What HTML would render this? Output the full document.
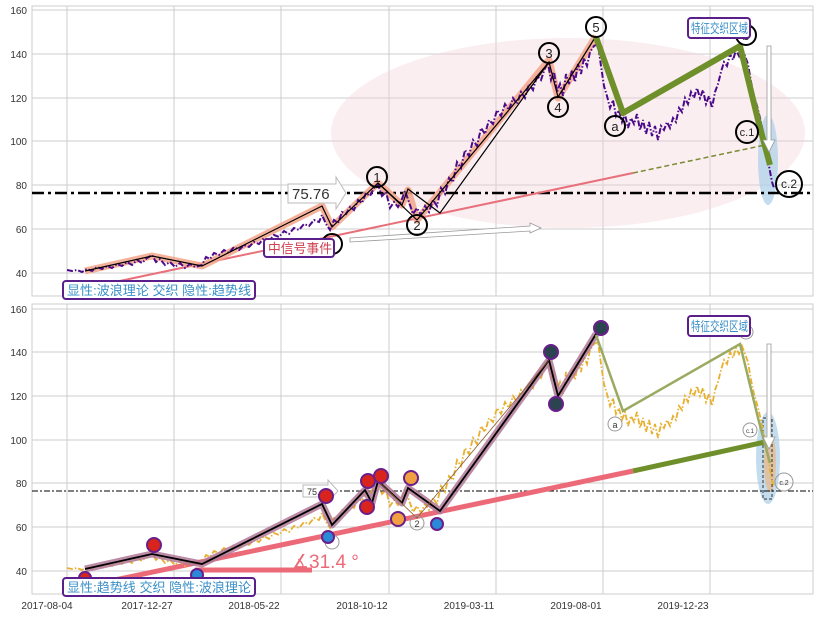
<!DOCTYPE html>
<html><head><meta charset="utf-8"><style>
html,body{margin:0;padding:0;background:#fff;}
svg{display:block;font-family:"Liberation Sans","Noto Sans CJK SC",sans-serif;}
</style></head><body>
<svg width="819" height="617" viewBox="0 0 819 617" xmlns="http://www.w3.org/2000/svg">
<defs>
<polyline id="price" fill="none" points="67,270 72,271 77,270 82,272 87,269 92,271 97,267 102,269 107,266 112,268 117,264 122,266 127,262 132,265 137,260 142,263 147,258 152,255 156,262 160,259 165,265 170,262 175,267 180,263 185,268 190,264 195,267 202,265 206,257 210,259 214,253 219,255 224,250 229,253 234,247 239,250 244,245 249,247 254,242 259,244 264,238 269,241 274,235 279,237 284,231 289,234 294,228 299,230 304,224 309,226 314,220 319,222 322,215 326,224 330,230 334,220 338,223 342,212 346,214 350,207 354,210 358,200 362,203 366,193 370,196 374,188 378,185 382,196 386,192 390,208 394,202 398,207 402,199 405,191 409,202 413,214 417,208 421,215 425,206 429,212 433,200 437,206 441,188 445,194 449,178 453,182 457,162 461,168 465,150 469,156 473,140 477,146 481,128 485,134 489,120 493,124 497,110 501,116 505,104 509,110 513,98 517,104 521,92 525,98 529,84 533,90 537,76 541,80 545,68 548,63 551,80 554,72 557,92 560,84 563,96 566,74 569,84 572,70 575,82 578,64 581,74 584,58 587,66 590,52 594,46 598,44 601,66 604,86 607,96 610,108 613,100 616,116 619,110 622,122 625,114 628,128 631,118 634,124 637,114 640,130 643,120 646,134 649,122 652,136 655,126 658,140 661,126 664,130 667,122 670,128 673,118 676,122 679,108 682,112 685,98 688,104 691,92 694,98 697,88 700,98 703,90 706,104 709,96 712,108 715,92 718,84 721,72 724,62 727,66 730,54 733,60 736,50 739,56 742,48 745,56 748,64 751,82 754,96 757,106 760,118 763,132 766,148 769,166 772,182 774,188"/>
</defs>
<!-- ===== TOP PANEL ===== -->
<rect x="32" y="6" width="781" height="290" fill="#fff" stroke="#ccc"/>
<g stroke="#ccc" stroke-width="1">
<line x1="67" y1="6" x2="67" y2="296"/><line x1="174" y1="6" x2="174" y2="296"/><line x1="281" y1="6" x2="281" y2="296"/><line x1="389" y1="6" x2="389" y2="296"/><line x1="496" y1="6" x2="496" y2="296"/><line x1="603" y1="6" x2="603" y2="296"/><line x1="710" y1="6" x2="710" y2="296"/>
<line x1="32" y1="10" x2="813" y2="10"/><line x1="32" y1="54" x2="813" y2="54"/><line x1="32" y1="98" x2="813" y2="98"/><line x1="32" y1="141" x2="813" y2="141"/><line x1="32" y1="185" x2="813" y2="185"/><line x1="32" y1="229" x2="813" y2="229"/><line x1="32" y1="273" x2="813" y2="273"/>
</g>
<g font-size="10" fill="#333" text-anchor="end">
<text x="27" y="14">160</text><text x="27" y="58">140</text><text x="27" y="102">120</text><text x="27" y="145">100</text><text x="27" y="189">80</text><text x="27" y="233">60</text><text x="27" y="277">40</text>
</g>
<ellipse cx="568" cy="133" rx="237" ry="95" fill="#f2d5dc" opacity="0.4"/>
<ellipse cx="768" cy="160" rx="10" ry="45" fill="#a9cfe8" opacity="0.7"/>
<line x1="32" y1="193" x2="813" y2="193" stroke="#000" stroke-width="2.5" stroke-dasharray="12,4,3,4"/>
<line x1="110" y1="283" x2="633" y2="173" stroke="#e8707a" stroke-width="2"/>
<line x1="633" y1="173" x2="765" y2="145" stroke="#7a8a30" stroke-width="1.5" stroke-dasharray="5,3"/>
<polyline fill="none" stroke="#f3a58a" stroke-width="7" stroke-linejoin="round" opacity="0.85" points="85,271 152,256 202,266 322,206 332,227 378,183 402,205 408,190 417,220 549,60 558,98 596,36"/>
<use href="#price" stroke="#4b0a8a" stroke-width="2" stroke-dasharray="6,2,1.5,2"/>
<polyline fill="none" stroke="#000" stroke-width="1.2" points="85,271 152,256 202,266 322,206 332,227 378,183 402,205 408,189 440,213 549,62 558,97 596,36"/>
<polyline fill="none" stroke="#000" stroke-width="1.2" points="378,183 417,220 549,62"/>
<polyline fill="none" stroke="#6f8f2a" stroke-width="6" stroke-linejoin="round" points="596,37 623,113 740,46 758,120 770,165"/>
<polygon points="350,238 530,226 530,223 541,228 530,233 530,231 350,242" fill="#fff" stroke="#999" stroke-width="0.8"/>
<polygon points="767,46 771,46 771,140 775,140 769,152 763,140 767,140" fill="#fff" stroke="#999" stroke-width="0.8"/>
<polygon points="288,184 336,184 336,177 346,193 336,209 336,203 288,203" fill="#fff" stroke="#bbb"/>
<text x="292" y="199" font-size="15" fill="#333">75.76</text>
<g fill="none" stroke="#000" stroke-width="2">
<circle cx="332" cy="244" r="10"/><circle cx="377" cy="177" r="10"/><circle cx="417" cy="225" r="10"/><circle cx="549" cy="53" r="10"/><circle cx="558" cy="107" r="10"/><circle cx="596" cy="27" r="10"/><circle cx="615" cy="126" r="10"/><circle cx="746" cy="35" r="10"/><circle cx="747" cy="132" r="11"/><circle cx="789" cy="184" r="13"/>
</g>
<g font-size="13" fill="#222" text-anchor="middle">
<text x="332" y="249">0</text><text x="377" y="182">1</text><text x="417" y="230">2</text><text x="549" y="58">3</text><text x="558" y="112">4</text><text x="596" y="32">5</text><text x="615" y="131">a</text><text x="746" y="40">b</text><text x="747" y="136" font-size="11">c.1</text><text x="789" y="188" font-size="12">c.2</text>
</g>
<rect x="264" y="239" width="70" height="18" rx="3" fill="#fff" stroke="#5a1f8a" stroke-width="2"/>
<text x="268" y="253" font-size="13" fill="#d04050" textLength="64" lengthAdjust="spacingAndGlyphs">中信号事件</text>
<rect x="688" y="18" width="62" height="20" rx="3" fill="#fff" stroke="#5a1f8a" stroke-width="2"/>
<text x="691" y="33" font-size="13" fill="#3a8fc8" textLength="57" lengthAdjust="spacingAndGlyphs">特征交织区域</text>
<rect x="63" y="281" width="192" height="18" rx="3" fill="#fff" stroke="#5a1f8a" stroke-width="2"/>
<text x="67" y="295" font-size="13" fill="#3a8fc8" textLength="184" lengthAdjust="spacingAndGlyphs">显性:波浪理论 交织 隐性:趋势线</text>

<!-- ===== BOTTOM PANEL ===== -->
<rect x="32" y="304" width="781" height="290" fill="#fff" stroke="#ccc"/>
<g stroke="#ccc" stroke-width="1">
<line x1="67" y1="304" x2="67" y2="594"/><line x1="174" y1="304" x2="174" y2="594"/><line x1="281" y1="304" x2="281" y2="594"/><line x1="389" y1="304" x2="389" y2="594"/><line x1="496" y1="304" x2="496" y2="594"/><line x1="603" y1="304" x2="603" y2="594"/><line x1="710" y1="304" x2="710" y2="594"/>
<line x1="32" y1="309" x2="813" y2="309"/><line x1="32" y1="352" x2="813" y2="352"/><line x1="32" y1="396" x2="813" y2="396"/><line x1="32" y1="440" x2="813" y2="440"/><line x1="32" y1="483" x2="813" y2="483"/><line x1="32" y1="527" x2="813" y2="527"/><line x1="32" y1="571" x2="813" y2="571"/>
</g>
<g font-size="10" fill="#333" text-anchor="end">
<text x="27" y="313">160</text><text x="27" y="356">140</text><text x="27" y="400">120</text><text x="27" y="444">100</text><text x="27" y="487">80</text><text x="27" y="531">60</text><text x="27" y="575">40</text>
</g>
<g font-size="10" fill="#333" text-anchor="middle">
<text x="47" y="609">2017-08-04</text><text x="147" y="609">2017-12-27</text><text x="254" y="609">2018-05-22</text><text x="362" y="609">2018-10-12</text><text x="469" y="609">2019-03-11</text><text x="576" y="609">2019-08-01</text><text x="683" y="609">2019-12-23</text>
</g>
<ellipse cx="768" cy="458" rx="12" ry="46" fill="#a9cfe8" opacity="0.7"/>
<ellipse cx="770" cy="462" rx="6" ry="30" fill="#f0b070" opacity="0.6"/>
<rect x="763" y="418" width="9" height="81" fill="none" stroke="#333" stroke-dasharray="3,2"/>
<line x1="32" y1="491" x2="813" y2="491" stroke="#000" stroke-width="1" stroke-dasharray="6,2,2,2"/>
<line x1="195" y1="570" x2="312" y2="570" stroke="#ec6a78" stroke-width="5"/>
<line x1="110" y1="581" x2="633" y2="471" stroke="#ec6a78" stroke-width="5"/>
<line x1="633" y1="471" x2="765" y2="442" stroke="#6f8f2a" stroke-width="5"/>
<g transform="translate(0,298)">
<use href="#price" stroke="#e8b030" stroke-width="1.8" stroke-dasharray="6,2,1.5,2"/>
<polyline fill="none" stroke="#b07898" stroke-width="7" stroke-linejoin="round" opacity="0.85" points="85,271 152,256 202,266 322,206 332,227 365,192 372,205 378,183 402,205 408,190 440,213 549,62 558,98 596,36"/>
<polyline fill="none" stroke="#000" stroke-width="1.8" points="85,271 152,256 202,266 322,206 332,227 365,192 372,205 378,183 402,205 408,190 440,213 549,62 558,98 596,36"/>
<polyline fill="none" stroke="#8a5a2a" stroke-width="0.8" points="378,183 417,220 549,62"/>
<polyline fill="none" stroke="#9aaa60" stroke-width="2.5" points="596,37 623,113 740,46 758,120 770,165"/>
</g>
<polygon points="767,344 771,344 771,437 775,437 769,449 763,437 767,437" fill="#fff" stroke="#999" stroke-width="0.8"/>
<polygon points="303,485 328,485 328,480 338,491 328,502 328,497 303,497" fill="#fff" stroke="#bbb"/>
<text x="307" y="495" font-size="9" fill="#333">75.</text>
<text x="292" y="568" font-size="19" fill="#ec6a78">∡31.4 °</text>
<g fill="none" stroke="#999" stroke-width="1">
<circle cx="332" cy="542" r="7"/><circle cx="417" cy="523" r="7"/><circle cx="615" cy="424" r="7"/><circle cx="746" cy="332" r="7"/><circle cx="750" cy="430" r="7"/><circle cx="784" cy="482" r="9"/>
</g>
<g font-size="9" fill="#333" text-anchor="middle"><text x="417" y="527">2</text><text x="615" y="428">a</text><text x="746" y="336">b</text><text x="750" y="433" font-size="6">c.1</text><text x="784" y="485" font-size="7">c.2</text></g>
<g stroke="#6a1f8a" stroke-width="2">
<circle cx="154" cy="545" r="7" fill="#d8241c"/><circle cx="326" cy="496" r="7" fill="#d8241c"/><circle cx="368" cy="481" r="7" fill="#d8241c"/><circle cx="381" cy="476" r="7" fill="#d8241c"/><circle cx="367" cy="507" r="7" fill="#d8241c"/>
<circle cx="85" cy="578" r="6" fill="#d8241c"/>
<circle cx="411" cy="478" r="7" fill="#f0a040"/><circle cx="398" cy="519" r="7" fill="#f0a040"/>
<circle cx="328" cy="537" r="6" fill="#2a8ad8"/><circle cx="437" cy="524" r="6" fill="#2a8ad8"/><circle cx="197" cy="575" r="6" fill="#2a8ad8"/>
<circle cx="551" cy="352" r="7" fill="#2a4450"/><circle cx="556" cy="404" r="7" fill="#2a4450"/><circle cx="601" cy="328" r="7" fill="#2a4450"/>
</g>
<rect x="688" y="316" width="62" height="20" rx="3" fill="#fff" stroke="#5a1f8a" stroke-width="2"/>
<text x="691" y="331" font-size="13" fill="#3a8fc8" textLength="57" lengthAdjust="spacingAndGlyphs">特征交织区域</text>
<rect x="63" y="578" width="192" height="18" rx="3" fill="#fff" stroke="#5a1f8a" stroke-width="2"/>
<text x="67" y="592" font-size="13" fill="#3a8fc8" textLength="184" lengthAdjust="spacingAndGlyphs">显性:趋势线 交织 隐性:波浪理论</text>
</svg>
</body></html>
